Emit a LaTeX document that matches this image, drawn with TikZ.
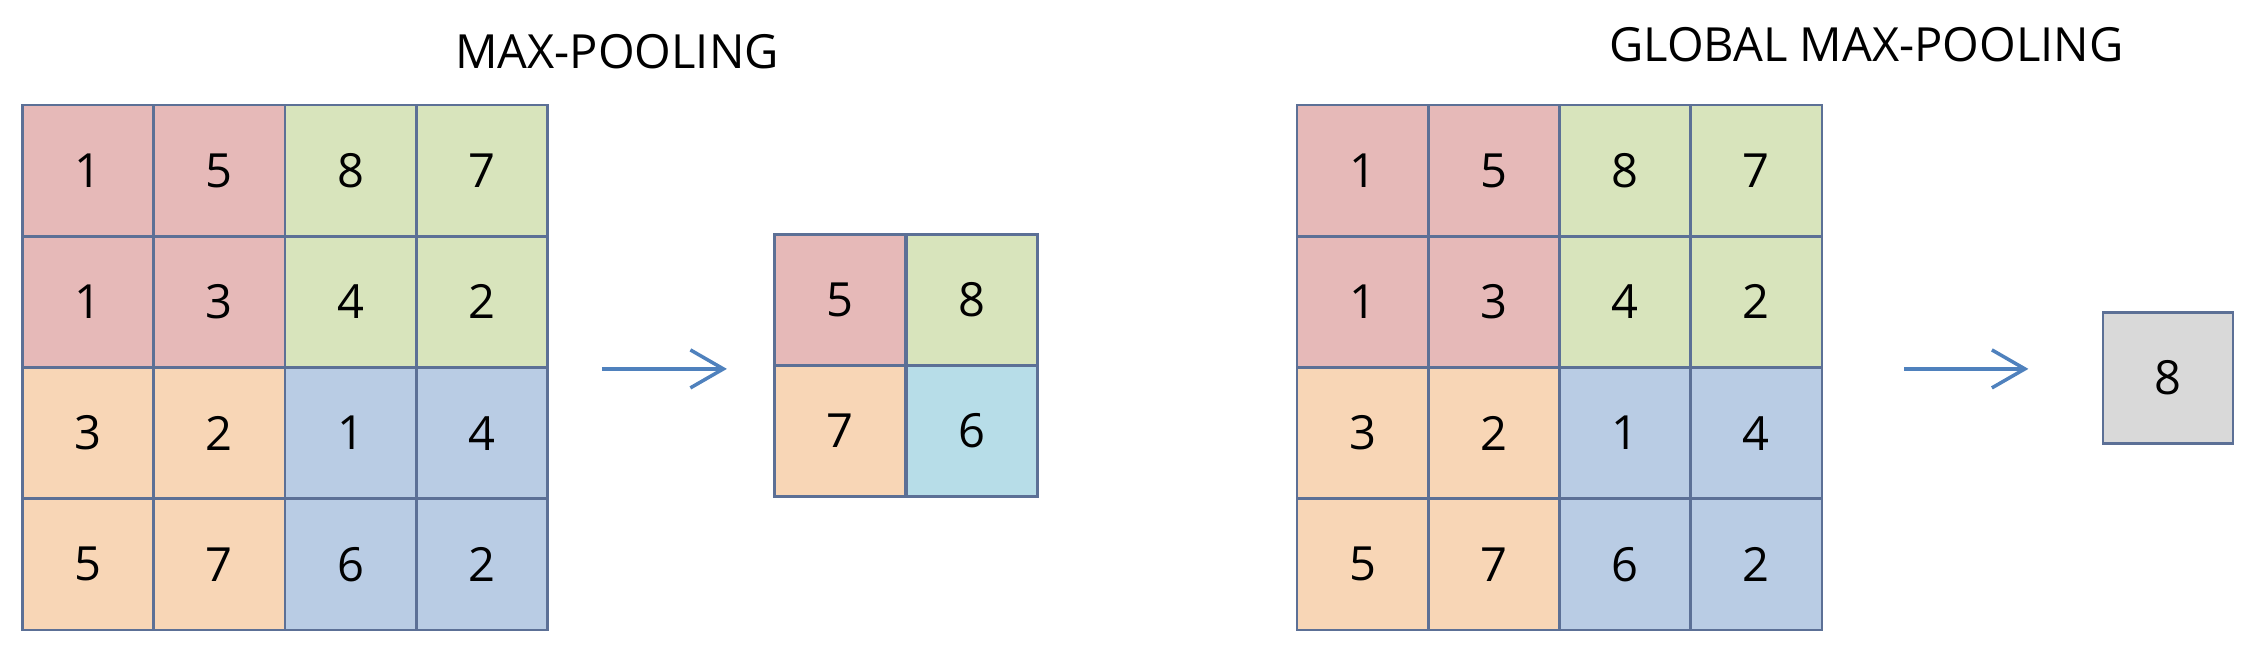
\documentclass[tikz,border=0pt]{standalone}
\usepackage{fontspec}
\setmainfont{Open Sans}
\usetikzlibrary{arrows.meta,calc}

\definecolor{gridline}{RGB}{92,112,150}
\definecolor{arrowblue}{RGB}{79,129,189}
\definecolor{quad0}{RGB}{230,185,184}
\definecolor{quad1}{RGB}{216,228,188}
\definecolor{quad2}{RGB}{248,214,182}
\definecolor{quad3}{RGB}{185,204,228}
\definecolor{cellcyan}{RGB}{183,221,232}
\definecolor{cellgray}{RGB}{217,217,217}

\tikzset{
    cell/.style={draw=gridline, line width=0.8pt, minimum size=1.3125cm,
        inner sep=0pt, font=\fontsize{13.4}{16}\selectfont},
    title/.style={anchor=base, font=\fontsize{13.4}{16}\selectfont},
    poolarrow/.style={draw=arrowblue, line width=1pt,
        -{Straight Barb[length=0.33cm, width=0.38cm, line width=1pt]}}
}

\begin{document}
\begin{tikzpicture}
        \useasboundingbox (0,0) rectangle (22.56,-6.56);
        % input grids
        \foreach \g/\gx in {L/0.225, R/12.97}
            \foreach \row/\vals in {1/{1,5,8,7},2/{1,3,4,2},3/{3,2,1,4},4/{5,7,6,2}}
                \foreach \v [count=\col] in \vals {
                    \pgfmathtruncatemacro{\q}{(\row>2)*2+(\col>2)}
                    \node[cell, fill=quad\q] (\g\row\col)
                        at ({\gx+(\col-0.5)*1.3125},{-1.05-(\row-0.5)*1.3125}) {\v};
                }
        % pooled output
        \node[cell, fill=quad0, minimum size=1.315cm] (S11) at (8.40,-3.00) {5};
        \node[cell, fill=quad1, minimum size=1.315cm] (S12) at (9.72,-3.00) {8};
        \node[cell, fill=quad2, minimum size=1.315cm] (S21) at (8.40,-4.31) {7};
        \node[cell, fill=cellcyan, minimum size=1.315cm] (S22) at (9.72,-4.31) {6};
        \node[cell, fill=cellgray, minimum width=1.30cm, minimum height=1.31cm] (G) at (21.68,-3.78) {8};
        % titles
        \node[title] (tmax) at (6.17,-0.69) {MAX-POOLING};
        \node[title] (tglob) at (18.665,-0.62) {GLOBAL MAX-POOLING};
        % arrows
        \coordinate (aL1) at ($(L24.south east)+(0.53,0)$);
        \coordinate (aL2) at ($(aL1)+(1.25,0)$);
        \coordinate (aR1) at ($(R24.south east)+(0.81,0)$);
        \coordinate (aR2) at ($(aR1)+(1.24,0)$);
        \draw[poolarrow] (aL1) -- (aL2);
        \draw[poolarrow] (aR1) -- (aR2);
    \end{tikzpicture}
\end{document}
